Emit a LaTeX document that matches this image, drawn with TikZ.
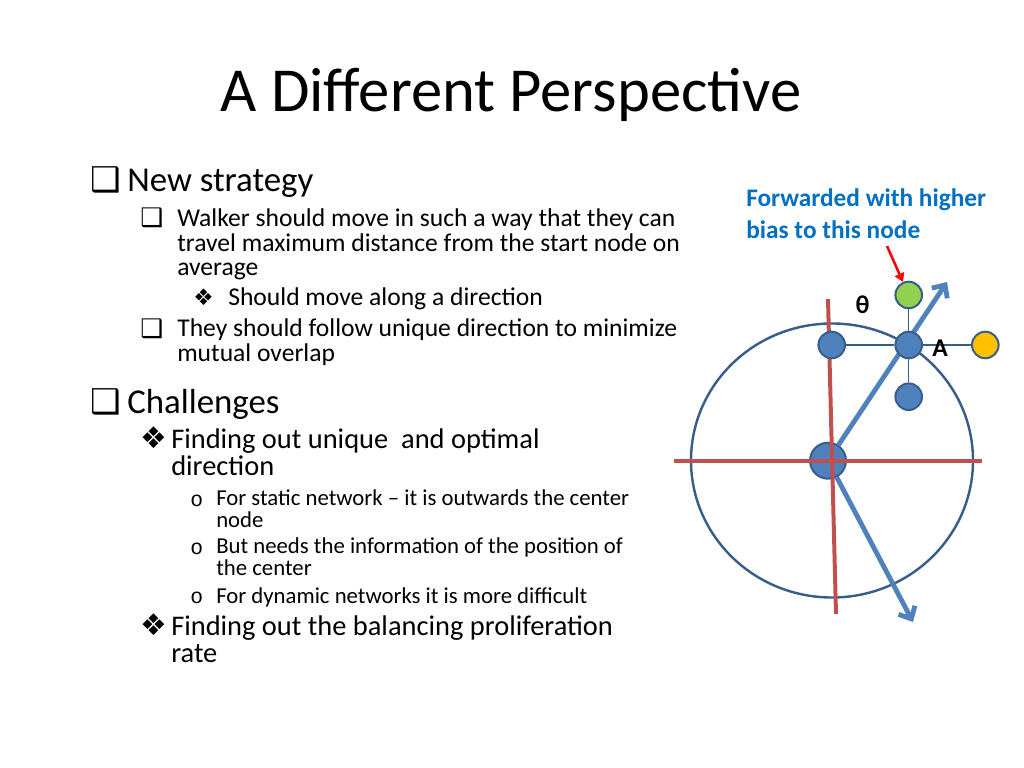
\documentclass[tikz,border=0pt]{standalone}
\usepackage{fontspec}
\setmainfont{Carlito}
\newfontfamily\symfont{DejaVu Sans}
\newfontfamily\ringfont{Liberation Mono}
\usetikzlibrary{arrows.meta}
\definecolor{NodeBlue}{HTML}{4F81BD}
\definecolor{NodeEdge}{HTML}{385D8A}
\definecolor{AxisRed}{HTML}{C0504D}
\definecolor{LabelBlue}{HTML}{0070C0}
\definecolor{TipGreen}{HTML}{92D050}
\definecolor{TipOrange}{HTML}{FFC000}

\tikzset{
  txt/.style={anchor=base west, inner sep=0pt, align=left},
  lvlone/.style={txt, font=\fontsize{24.5}{28}\selectfont},
  lvltwo/.style={txt, font=\fontsize{18}{17.4}\selectfont},
  lvlmid/.style={txt, font=\fontsize{20}{18.8}\selectfont},
  lvlthree/.style={txt, font=\fontsize{16}{15}\selectfont},
  boxbulone/.style={txt, font=\symfont\fontsize{24}{24}\selectfont},
  boxbul/.style={txt, font=\symfont\fontsize{18}{18}\selectfont},
  gembul/.style={txt, font=\symfont\fontsize{16}{16}\selectfont},
  gembultwo/.style={txt, font=\symfont\fontsize{21}{21}\selectfont},
  ringbul/.style={txt, font=\ringfont\fontsize{15}{15}\selectfont},
  peer/.style={circle, draw=NodeEdge, fill=NodeBlue, line width=1.4pt, minimum size=18.7pt, inner sep=0pt},
  hub/.style={peer, minimum size=25.3pt},
  link/.style={draw=NodeEdge, line width=0.9pt},
  ring/.style={draw=NodeEdge, line width=1.7pt},
  axis/.style={draw=AxisRed, line width=2.8pt},
  walk/.style={draw=NodeBlue, line width=3.4pt, -{Straight Barb[length=7pt,width=13pt]}},
  pointer/.style={draw=red, line width=1.8pt, -{Triangle[length=6pt,width=7pt]}},
  tag/.style={font=\bfseries\fontsize{18}{18}\selectfont, inner sep=0pt}
}

\begin{document}
\begin{tikzpicture}[x=0.703125pt, y=-0.703125pt]
  \useasboundingbox (0,0) rectangle (1024,768);
  \fill[white] (0,0) rectangle (1024,768);

  % title
  \node[font=\fontsize{44}{48}\selectfont, anchor=base, inner sep=0pt] (title) at (511,112) {A Different Perspective};

  % bullet list (multi-line texts sit on their last baseline)
  \node[boxbulone] (b1) at (90,192) {❑};
  \node[lvlone] (t1) at (127,192) {New strategy};
  \node[boxbul] (b11) at (140,227) {❑};
  \node[lvltwo] (t11) at (177,276) {Walker should move in such a way that they can\\travel maximum distance from the start node on\\average};
  \node[gembul] (b111) at (193,306) {❖};
  \node[lvltwo] (t111) at (228,306) {Should move along a direction};
  \node[boxbul] (b12) at (140,337) {❑};
  \node[lvltwo] (t12) at (177,361.7) {They should follow unique direction to minimize\\mutual overlap};
  \node[boxbulone] (b2) at (90,413) {❑};
  \node[lvlone] (t2) at (127,413) {Challenges};
  \node[gembultwo] (b21) at (140,448.5) {❖};
  \node[lvlmid] (t21) at (171,475) {Finding out unique\ \ and optimal\\direction};
  \node[ringbul] (b211) at (190,506) {o};
  \node[lvlthree] (t211) at (216,527) {For static network – it is outwards the center\\node};
  \node[ringbul] (b212) at (190,554.5) {o};
  \node[lvlthree] (t212) at (216,575) {But needs the information of the position of\\the center};
  \node[ringbul] (b213) at (190,603) {o};
  \node[lvlthree] (t213) at (216,603) {For dynamic networks it is more difficult};
  \node[gembultwo] (b22) at (140,635) {❖};
  \node[lvlmid] (t22) at (171,662) {Finding out the balancing proliferation\\rate};

  % network
  \draw[ring] (832,460.5) ellipse [x radius=141, y radius=137];
  \node[hub] (c) at (828,460.7) {};
  \coordinate (h1) at (674,460.7);
  \coordinate (h2) at (982,460.7);
  \coordinate (v1) at (828,299);
  \coordinate (v2) at (836,614);
  \draw[axis] (h1) -- (h2);
  \draw[axis] (v1) -- (v2);
  \coordinate (fwd) at (947,282);
  \coordinate (back) at (913,622);
  \draw[walk] (c) -- (fwd);
  \draw[walk] (c) -- (back);

  \node[peer] (l) at (831.7,345) {};
  \node[peer] (a) at (908.7,345) {};
  \node[peer, fill=TipGreen] (g) at (908.7,295) {};
  \node[peer] (d) at (908.7,396.7) {};
  \node[peer, fill=TipOrange] (o) at (985.3,345) {};
  \draw[link] (l) -- (a);
  \draw[link] (a) -- (o);
  \draw[link] (g) -- (a);
  \draw[link] (a) -- (d);

  \node[tag] (alabel) at (940,348) {A};
  \node[tag] (theta) at (862.7,305) {θ};

  \node[txt, font=\bfseries\fontsize{17.8}{22.2}\selectfont, text=LabelBlue] (note) at (746,238.3) {Forwarded with higher\\bias to this node};
  \coordinate (ptr) at (887,246);
  \draw[pointer] (ptr) -- (g);
\end{tikzpicture}
\end{document}
